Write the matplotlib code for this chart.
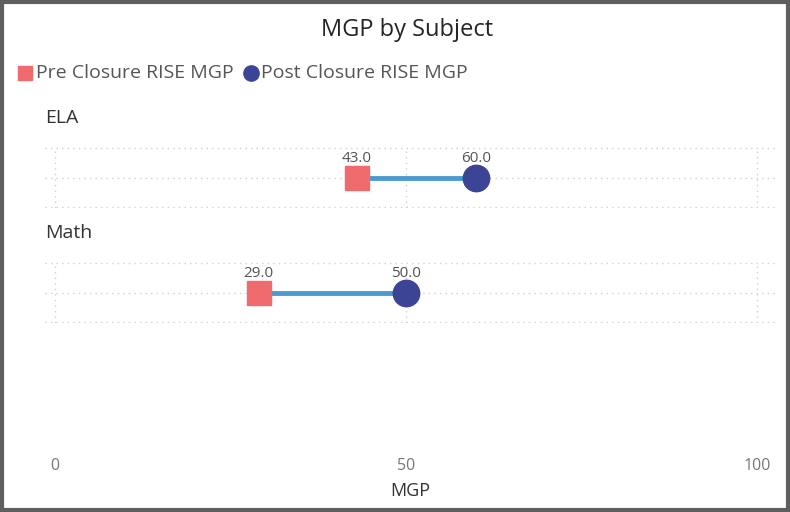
import matplotlib
matplotlib.use("Agg")
import matplotlib.pyplot as plt
from matplotlib.lines import Line2D
from matplotlib.patches import Rectangle

subjects = ["ELA", "Math"]
pre_mgp = [43.0, 29.0]
post_mgp = [60.0, 50.0]
x_ticks = [0, 50, 100]
series_names = ["Pre Closure RISE MGP", "Post Closure RISE MGP"]

PRE_C = "#EF6B6E"
POST_C = "#3C4496"
LINE_C = "#4A9AD0"
GRID_C = "#cfcfcf"

plt.rcParams['font.family'] = ['Open Sans', 'DejaVu Sans']

W, H = 790, 512
fig = plt.figure(figsize=(W / 100, H / 100), dpi=100)

def fx(px):
    return px / W

def fy(px):
    return 1 - px / H

xl = (-10 / 7.02, 100 + 18 / 7.02)
ax_left, ax_right = 45, 775

# border
fig.add_artist(Rectangle((0.002, 0.003), 0.995, 0.993, transform=fig.transFigure,
                         fill=False, edgecolor="#5f5f5f", linewidth=3))

fig.text(0.5 + fx(12), fy(30), "MGP by Subject", ha="center", va="center", fontsize=17, color="#252423")

# legend
fig.add_artist(Line2D([fx(25)], [fy(73)], marker="s", markersize=10, color=PRE_C,
                      linestyle="none", transform=fig.transFigure))
fig.text(fx(36), fy(73), series_names[0], ha="left", va="center", fontsize=14, color="#555555")
fig.add_artist(Line2D([fx(251)], [fy(73)], marker="o", markersize=11, color=POST_C,
                      linestyle="none", transform=fig.transFigure))
fig.text(fx(261), fy(73), series_names[1], ha="left", va="center", fontsize=14, color="#555555")

panel_tops = [147, 262]
label_ys = [118, 233]
ph = 61

for i, subj in enumerate(subjects):
    top = panel_tops[i]
    ax = fig.add_axes([fx(ax_left), fy(top + ph), fx(ax_right - ax_left), ph / H])
    ax.set_xlim(*xl)
    ax.set_ylim(-1, 1)
    for s in ax.spines.values():
        s.set_visible(False)
    ax.set_xticks([])
    ax.set_yticks([])
    ax.patch.set_alpha(0)
    for yy in (-0.98, 0, 0.98):
        ax.axhline(yy, color=GRID_C, linestyle=(0, (1, 3)), linewidth=1, zorder=0)
    for xx in x_ticks:
        ax.axvline(xx, color=GRID_C, linestyle=(0, (1, 3)), linewidth=1, zorder=0)
    ax.plot([pre_mgp[i], post_mgp[i]], [0, 0], color=LINE_C, linewidth=3.5, zorder=2,
            solid_capstyle="butt")
    ax.plot([pre_mgp[i]], [0], marker="s", markersize=17.5, color=PRE_C, linestyle="none", zorder=3)
    ax.plot([post_mgp[i]], [0], marker="o", markersize=19, color=POST_C, linestyle="none", zorder=3)
    ax.annotate(f"{pre_mgp[i]:.1f}", (pre_mgp[i], 0), xytext=(0, 8.5), textcoords="offset points",
                ha="center", va="bottom", fontsize=11, color="#555555")
    ax.annotate(f"{post_mgp[i]:.1f}", (post_mgp[i], 0), xytext=(0, 8.5), textcoords="offset points",
                ha="center", va="bottom", fontsize=11, color="#555555")
    fig.text(fx(45), fy(label_ys[i]), subj, ha="left", va="center", fontsize=14, color="#333333")

# x axis
axx = fig.add_axes([fx(ax_left), fy(452), fx(ax_right - ax_left), 0.0001])
axx.set_xlim(*xl)
for s in axx.spines.values():
    s.set_visible(False)
axx.set_yticks([])
axx.set_xticks(x_ticks)
axx.set_xticklabels([str(t) for t in x_ticks])
axx.tick_params(axis="x", length=0, labelsize=11.5, labelcolor="#777777", pad=4)
axx.set_xlabel("MGP", fontsize=13, color="#333333", labelpad=6)

fig.savefig("out.png", dpi=100)
